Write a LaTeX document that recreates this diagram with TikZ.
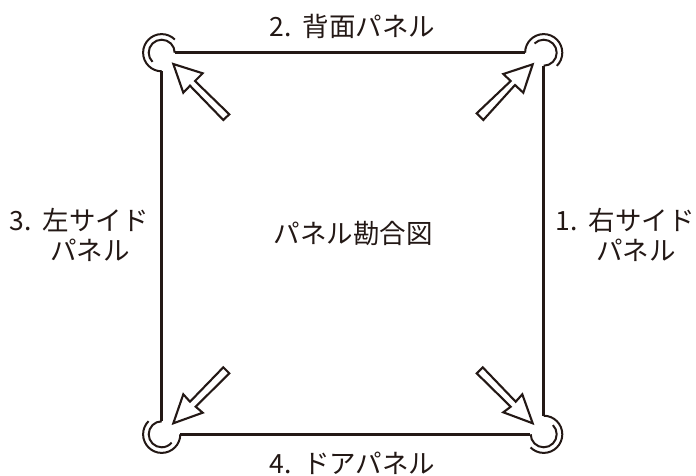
\documentclass[tikz,border=0pt]{standalone}
\usepackage{fontspec}
\setmainfont{Noto Sans CJK JP}
\definecolor{ink}{HTML}{231815}
\tikzset{
  x=1pt,y=-1pt,
  wall/.style={draw=ink,line width=2.7pt,line cap=butt,line join=miter},
  hinge/.style={draw=ink,line width=2pt},
  blockarrow/.style={draw=ink,line width=2.1pt,fill=white,line join=miter},
  lbl/.style={font=\fontsize{26.5}{30}\selectfont,text=ink,align=left,inner sep=0pt}
}
\newcommand{\numgap}{\hspace{0.42em}}
\begin{document}
\begin{tikzpicture}
\useasboundingbox (0,0) rectangle (696,475);
% walls
\draw[wall] (175,52.7) -- (525,52.7);
\draw[wall] (161.7,71) -- (161.7,421);
\draw[wall] (180,434.3) -- (530.4,434.3);
\draw[wall] (543.7,66) -- (543.7,416);
% corner arcs
\def\ro{18.6pt}\def\ri{13pt}
\draw[hinge] (161.7,71.3) arc[start angle=-90,delta angle=-225,radius=\ro];
\draw[hinge] (174.7,52.7) arc[start angle=0,delta angle=225,radius=\ri];
\draw[hinge] (525.1,52.7) arc[start angle=180,delta angle=-225,radius=\ro];
\draw[hinge] (543.7,65.7) arc[start angle=-90,delta angle=225,radius=\ri];
\draw[hinge] (180.3,434.3) arc[start angle=0,delta angle=-225,radius=\ro];
\draw[hinge] (161.7,421.3) arc[start angle=90,delta angle=230,radius=\ri];
\draw[hinge] (543.7,415.7) arc[start angle=90,delta angle=-225,radius=\ro];
\draw[hinge] (530.7,434.3) arc[start angle=180,delta angle=225,radius=\ri];
% arrows
\draw[blockarrow] (173.3,64) -- (202.7,73.3) -- (195,81) -- (229.3,114.3) -- (223.3,120) -- (190,85.7) -- (183.3,92.7) -- cycle;
\draw[blockarrow] (532.7,64.3) -- (523.3,92.7) -- (515,85) -- (483.3,120) -- (476.7,113.3) -- (510.7,81) -- (503.3,74) -- cycle;
\draw[blockarrow] (173.3,423.3) -- (183.3,394.3) -- (190,401.7) -- (223.3,367.3) -- (229.3,373.3) -- (195.7,406.7) -- (202.7,412.7) -- cycle;
\draw[blockarrow] (532.7,423.3) -- (503.3,412.3) -- (510.7,406.7) -- (476.7,373.3) -- (482.7,367.3) -- (515.7,401.7) -- (522.3,394.3) -- cycle;
% labels
\node[lbl] (back) at (352.5,26) {2.\numgap 背面パネル};
\node[lbl] (left) at (79,235) {3.\numgap 左サイド\\\hspace*{41pt}パネル};
\node[lbl] (right) at (625,235) {1.\numgap 右サイド\\\hspace*{41pt}パネル};
\node[lbl] (centre) at (353,233.5) {パネル勘合図};
\node[lbl] (door) at (352.5,463) {4.\numgap ドアパネル};
\end{tikzpicture}
\end{document}
